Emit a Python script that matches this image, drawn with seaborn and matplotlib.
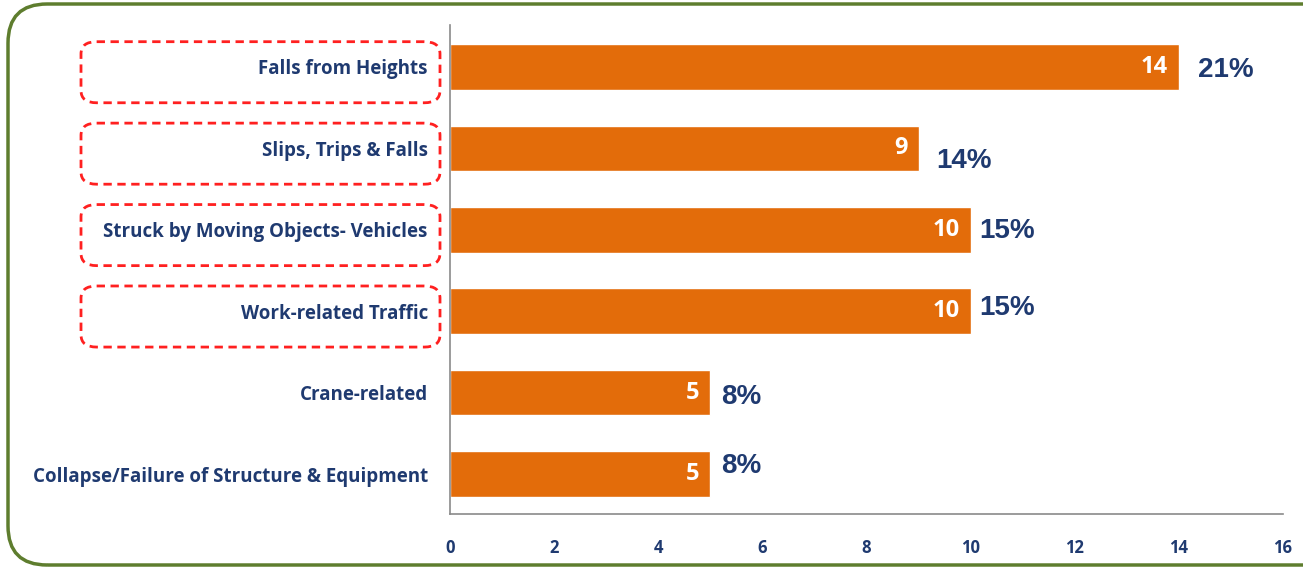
import matplotlib
matplotlib.use("Agg")
import matplotlib.pyplot as plt
import matplotlib.transforms as mtransforms
from matplotlib.patches import FancyBboxPatch
import seaborn as sns
import pandas as pd

categories = [
    "Falls from Heights",
    "Slips, Trips & Falls",
    "Struck by Moving Objects- Vehicles",
    "Work-related Traffic",
    "Crane-related",
    "Collapse/Failure of Structure & Equipment",
]
counts = [14, 9, 10, 10, 5, 5]
percents = ["21%", "14%", "15%", "15%", "8%", "8%"]
highlighted = [True, True, True, True, False, False]
x_ticks = [0, 2, 4, 6, 8, 10, 12, 14, 16]

# style / layout
ORANGE = "#E36C0A"
NAVY = "#1F3A70"
GREEN = "#5E7D2E"
RED = "#FF2020"
pct_offsets = [(14, -2), (13, -9), (6, -1), (6, 2), (8, -3), (8, 6)]  # points

df = pd.DataFrame({"category": categories, "count": counts})

sns.set_style("white")
plt.rcParams["font.family"] = ["Open Sans", "DejaVu Sans"]

fig = plt.figure(figsize=(13.03, 5.70), dpi=100)
ax = fig.add_axes([450 / 1303, 1 - 514 / 570, (1283 - 450) / 1303, (514 - 25) / 570])

sns.barplot(data=df, x="count", y="category", orient="h", color=ORANGE,
            saturation=1, width=0.56, ax=ax)

ax.set_xlim(0, 16)
ax.set_ylim(5.49, -0.515)
ax.set_xticks(x_ticks)
ax.set_xticklabels([str(t) for t in x_ticks])
ax.set_xlabel("")
ax.set_ylabel("")
for s in ["top", "right"]:
    ax.spines[s].set_visible(False)
for s in ["left", "bottom"]:
    ax.spines[s].set_color("#8a8a8a")
    ax.spines[s].set_linewidth(1.2)
ax.tick_params(axis="x", length=0, pad=18, labelsize=12, labelcolor=NAVY)
ax.tick_params(axis="y", length=0, pad=16, labelsize=13.5, labelcolor=NAVY)
for lab in ax.get_xticklabels() + ax.get_yticklabels():
    lab.set_fontweight("bold")

# value labels inside bars
for i, c in enumerate(counts):
    ax.annotate(str(c), xy=(c, i), xytext=(-8, 0), textcoords="offset points",
                ha="right", va="center", fontsize=17, fontweight="bold",
                color="white")

# percent labels
for i, (c, p) in enumerate(zip(counts, percents)):
    dx, dy = pct_offsets[i]
    ax.annotate(p, xy=(c, i), xytext=(dx, dy), textcoords="offset points",
                ha="left", va="center", fontsize=20, fontweight="bold",
                color=NAVY, family=["Liberation Sans", "DejaVu Sans"])

# dashed highlight boxes around labels
trans = mtransforms.blended_transform_factory(fig.transFigure, ax.transData)
for i, h in enumerate(highlighted):
    if not h:
        continue
    x0 = 81 / 1303
    w = (440 - 81) / 1303
    box = FancyBboxPatch((x0, i - 0.31), w, 0.75,
                         boxstyle="round,pad=0,rounding_size=0.012",
                         transform=trans, fill=False, edgecolor=RED,
                         linestyle=(0, (3, 2)), linewidth=2, clip_on=False,
                         mutation_aspect=1 / 0.012 * 0.15)
    fig.add_artist(box)

# outer rounded border
border = FancyBboxPatch((8 / 1303, 5 / 570), 1500 / 1303, 561 / 570,
                        boxstyle="round,pad=0,rounding_size=0.03",
                        transform=fig.transFigure, fill=False,
                        edgecolor=GREEN, linewidth=2.5,
                        mutation_aspect=1303 / 570)
fig.add_artist(border)

fig.savefig("out.png", dpi=100)
